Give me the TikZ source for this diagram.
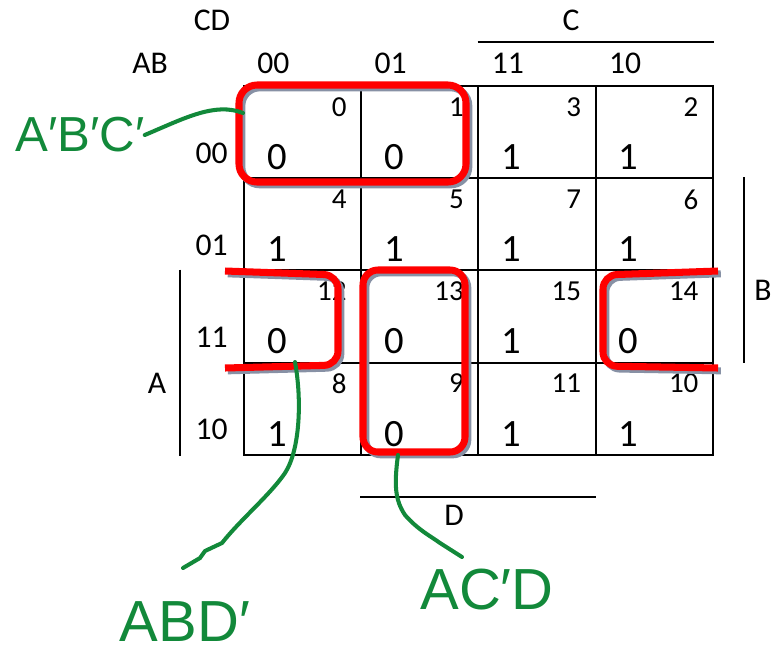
\documentclass[tikz,border=0pt]{standalone}
\usepackage{fontspec}
\setmainfont{Carlito}
\newfontfamily\handfont{Liberation Sans}
\usetikzlibrary{positioning, calc}
\definecolor{loopred}{RGB}{255,0,0}
\definecolor{loopshadow}{RGB}{135,145,165}
\definecolor{pengreen}{RGB}{18,137,58}

\begin{document}
\begin{tikzpicture}[
            x=0.02cm, y=-0.02cm,
            cell/.style={draw, line width=1pt, minimum width=2.345cm, minimum height=1.845cm, anchor=north west, inner sep=0pt},
            idx/.style={font=\fontsize{16.5}{16.5}\selectfont, inner sep=0pt, anchor=north east},
            val/.style={font=\fontsize{22}{22}\selectfont, inner sep=0pt},
            lbl/.style={font=\fontsize{18}{18}\selectfont, inner sep=0pt},
            bar/.style={line width=1.1pt},
            grp/.style={draw=loopred, line width=4pt, line join=round,
                preaction={draw=loopshadow, line width=4pt, transform canvas={shift={(1.6pt,-1.6pt)}}}},
            pen/.style={draw=pengreen, line width=2.3pt, line cap=round, line join=round},
            hand/.style={text=pengreen, inner sep=0pt}
        ]
            \useasboundingbox (0,0) rectangle (782,664);

            % K-map cells, Gray code order
            \foreach \idx/\val [count=\k from 0] in {0/0,1/0,3/1,2/1,4/1,5/1,7/1,6/1,12/0,13/0,15/1,14/0,8/1,9/0,11/1,10/1} {
                \pgfmathtruncatemacro\r{div(\k,4)}
                \pgfmathtruncatemacro\c{mod(\k,4)}
                \node[cell] (c\idx) at (243+117.25*\c, 85+92.25*\r) {};
                \node[idx] at ([shift={(-15,12)}]c\idx.north east) {\idx};
                \node[val] at ([shift={(34,-22)}]c\idx.south west) {\val};
            }

            % row and column labels
            \foreach \lab/\i in {00/0,01/1,11/3,10/2}
                \node[lbl, anchor=west] at ([shift={(14,-22)}]c\i.north west) {\lab};
            \foreach \lab/\i in {00/0,01/4,11/12,10/8}
                \node[lbl, anchor=east] at ([shift={(-15,-26)}]c\i.south west) {\lab};
            \node[lbl] (cd) at (212,20) {CD};
            \node[lbl] (ab) at (150,63) {AB};

            % variable bars
            \draw[bar] ($(c3.north west)+(0,-43)$) -- ($(c2.north east)+(0,-43)$);
            \node[lbl] (lc) at (571,20) {C};
            \draw[bar] ($(c9.south west)+(0,41)$) -- ($(c11.south east)+(0,41)$);
            \node[lbl] (ld) at (454,515) {D};
            \draw[bar] ($(c12.north west)+(-63,0)$) -- ($(c8.south west)+(-63,0)$);
            \node[lbl] (la) at (157,383) {A};
            \draw[bar] ($(c6.north east)+(30,0)$) -- ($(c14.south east)+(30,0)$);
            \node[lbl] (lb) at (763,290) {B};

            % groups of zeros
            \draw[grp, rounded corners=0.36cm] (239,85) rectangle (466,182);
            \draw[grp, rounded corners=0.3cm] (363,270) rectangle (465,452);
            \draw[grp, rounded corners=0.28cm] (225,271) -- (338,275) -- (338,365) -- (225,368);
            \draw[grp, rounded corners=0.28cm] (718,271) -- (603,275) -- (603,366) -- (718,368);

            % hand written terms
            \node[hand, font=\handfont\fontsize{28}{28}\selectfont] (t0) at (80,135) {A′B′C′};
            \node[hand, font=\handfont\fontsize{33}{33}\selectfont] (t12) at (185,622) {ABD′};
            \node[hand, font=\handfont\fontsize{33}{33}\selectfont] (t13) at (487,590) {AC′D};

            \coordinate (g0) at (243,113);
            \coordinate (g12) at (295,362);
            \coordinate (e12) at (183,568);
            \coordinate (g13) at (398,455);
            \coordinate (e13) at (462,557);

            \draw[pen] (t0.east) .. controls (185,118) and (215,102) .. (g0);
            \draw[pen] (g12) .. controls (302,400) and (300,450) .. (285,473)
                .. controls (270,495) and (240,520) .. (222,543) -- (205,551) -- (200,558) -- (e12);
            \draw[pen] (g13) .. controls (394,485) and (395,500) .. (405,515)
                .. controls (418,530) and (432,537) .. (440,543) -- (e13);
        \end{tikzpicture}
\end{document}
